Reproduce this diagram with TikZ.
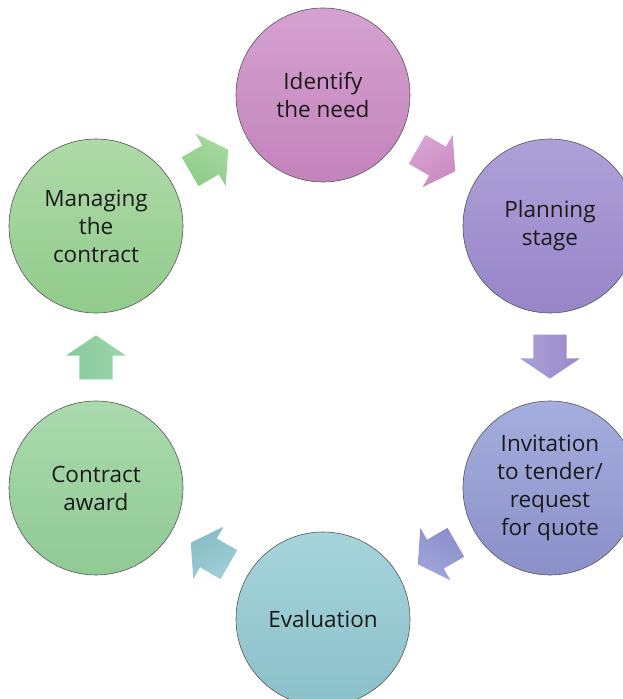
\documentclass[tikz,border=0pt]{standalone}
\usepackage{fontspec}
\setmainfont{Open Sans}
\usepackage{xcolor}
\usepackage{tikz}
\usetikzlibrary{calc,shapes.arrows}

\definecolor{txt}{HTML}{1A1A1A}
\definecolor{rim}{HTML}{555555}
% stage fills, light top / dark bottom
\definecolor{identifyT}{HTML}{D5A2D0}\definecolor{identifyB}{HTML}{C383BB}
\definecolor{planningT}{HTML}{AEA1D8}\definecolor{planningB}{HTML}{9785C8}
\definecolor{invitationT}{HTML}{A5AEDE}\definecolor{invitationB}{HTML}{8B90C9}
\definecolor{evaluationT}{HTML}{A6D4DB}\definecolor{evaluationB}{HTML}{8BC0C9}
\definecolor{awardT}{HTML}{ABDAAC}\definecolor{awardB}{HTML}{8FCA95}
\definecolor{managingT}{HTML}{AEDAA7}\definecolor{managingB}{HTML}{91CB8C}
% arrow fills
\definecolor{ipT}{HTML}{D9A3D3}\definecolor{ipB}{HTML}{C98ABF}
\definecolor{piT}{HTML}{ABA0D8}\definecolor{piB}{HTML}{9A89CB}
\definecolor{ieT}{HTML}{A0A6DB}\definecolor{ieB}{HTML}{8B8FCA}
\definecolor{eaT}{HTML}{A0CFD7}\definecolor{eaB}{HTML}{86BCC6}
\definecolor{amT}{HTML}{9ED6AA}\definecolor{amB}{HTML}{87C99A}
\definecolor{miT}{HTML}{A6D89F}\definecolor{miB}{HTML}{8FCC8A}

\tikzset{
  stage/.style={circle, minimum size=174pt, inner sep=0pt, draw=rim, line width=0.6pt,
    align=center, text=txt, font=\fontsize{22.5}{28}\selectfont,
    top color=#1T, bottom color=#1B},
  flow/.style 2 args={single arrow, draw=none, inner xsep=2pt, inner ysep=16.5pt,
    minimum height=44pt, single arrow head extend=13.5pt, single arrow tip angle=112,
    rotate=#1, xshift=-6pt, top color=#2T, bottom color=#2B, shading angle=-#1}
}

\begin{document}
\begin{tikzpicture}[x=1pt,y=1pt]
\clip (0,0) rectangle (623,699);

% the six stages round the cycle
\node [stage=identify] (identify) at (323,604) {Identify\\the need};
\node [stage=planning] (planning) at (550,473) {Planning\\stage};
\node [stage=invitation] (invitation) at (550,211) {Invitation\\to tender/\\request\\for quote};
\node [stage=evaluation] (evaluation) at (323,80) {Evaluation};
\node [stage=award] (award) at (96,211) {Contract\\award};
\node [stage=managing] (managing) at (96,473) {Managing\\the\\contract};

% block arrows half way between neighbours
\node [flow={-30}{ip}] (ip) at ($(identify)!0.5!(planning)$) {};
\node [flow={-90}{pi}] (pi) at ($(planning)!0.5!(invitation)$) {};
\node [flow={-150}{ie}] (ie) at ($(invitation)!0.5!(evaluation)$) {};
\node [flow={150}{ea}] (ea) at ($(evaluation)!0.5!(award)$) {};
\node [flow={90}{am}] (am) at ($(award)!0.5!(managing)$) {};
\node [flow={30}{mi}] (mi) at ($(managing)!0.5!(identify)$) {};
\end{tikzpicture}
\end{document}
